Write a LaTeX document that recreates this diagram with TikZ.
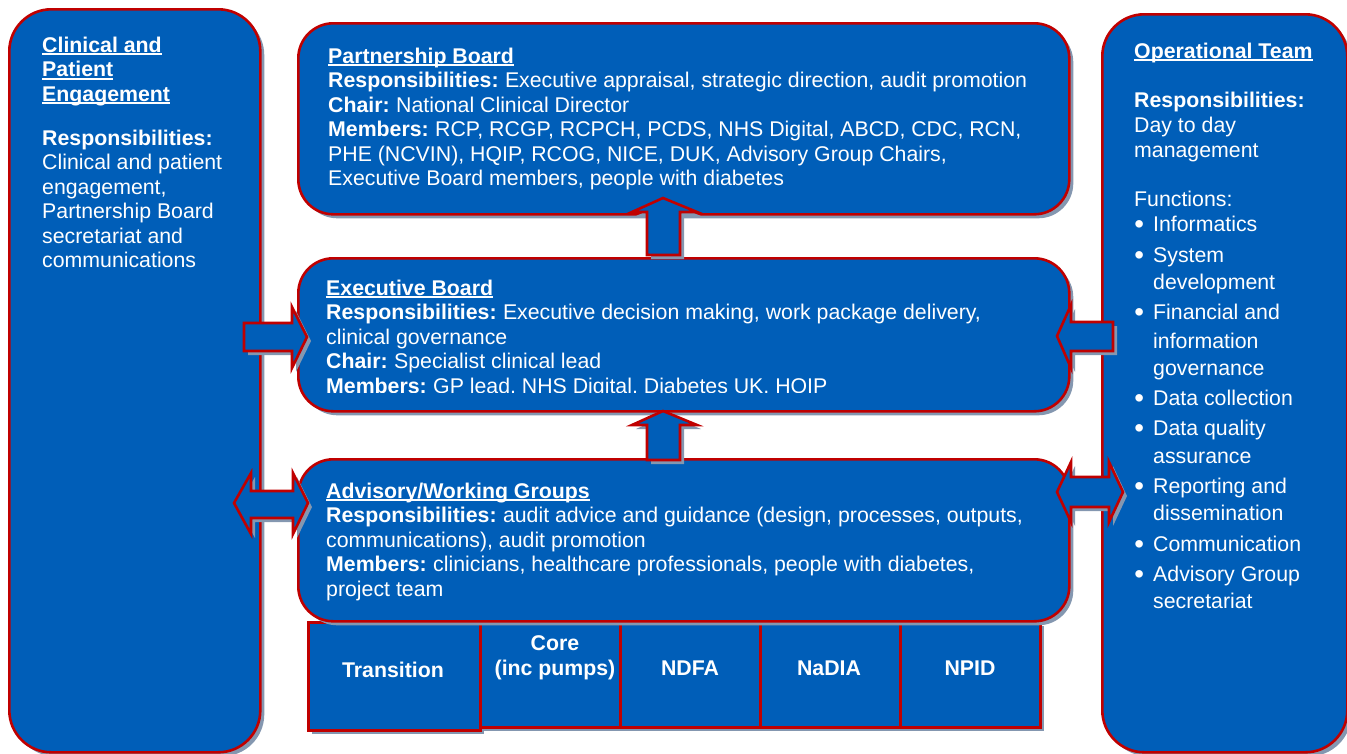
\documentclass[tikz,border=0pt]{standalone}
\usepackage{fontspec}
\usepackage{graphicx}
\setmainfont{Liberation Sans}
\usetikzlibrary{shadows}
\definecolor{nhsblue}{RGB}{0,94,184}
\definecolor{bred}{RGB}{192,0,0}
\definecolor{shc}{RGB}{132,151,176}
\newcommand\mainsize{\fontsize{21.3pt}{24.5pt}\selectfont}
\newcommand\myul[1]{\leavevmode\setbox0=\hbox{#1}\rlap{\rule[-3.4pt]{\wd0}{2.1pt}}\box0}
\newcommand\bul{\leavevmode\makebox[10pt][c]{\raisebox{-2.6pt}{\scalebox{1.3}{•}}}\hspace{9pt}}
\newcommand\bulind{\leavevmode\hspace*{19pt}}
\tikzset{
  shad/.style={drop shadow={shadow xshift=4pt,shadow yshift=-4pt,fill=shc,opacity=1}},
  panel/.style={draw=bred,fill=nhsblue,line width=2.6pt,inner sep=0pt,anchor=north west,shad},
  cell/.style={panel},
  barrow/.style={draw=bred,fill=nhsblue,line width=2.6pt,line join=miter,shad},
  txt/.style={anchor=base west,inner sep=0pt,text=white,font=\mainsize},
  celltxt/.style={anchor=base,inner sep=0pt,text=white,font=\mainsize\bfseries,align=center},
}
\begin{document}
\begin{tikzpicture}[x=1pt,y=-1pt]
\useasboundingbox (0,0) rectangle (1347,753);
% side panels
\node[panel,rounded corners=42pt,minimum width=251pt,minimum height=743pt] (cpe) at (8,8) {};
\node[panel,rounded corners=42pt,minimum width=245pt,minimum height=738pt] (ops) at (1101,13) {};
% bottom cells
\node[cell,minimum width=172pt,minimum height=108pt] (ctr) at (307,621) {};
\node[cell,minimum width=140pt,minimum height=105pt] (ccore) at (479,621) {};
\node[cell,minimum width=140pt,minimum height=105pt] (cndfa) at (619,621) {};
\node[cell,minimum width=140pt,minimum height=105pt] (cnadia) at (759,621) {};
\node[cell,minimum width=140pt,minimum height=105pt] (cnpid) at (899,621) {};
% central boards
\node[panel,rounded corners=35pt,minimum width=771pt,minimum height=191pt] (pb) at (297,22) {};
\node[panel,rounded corners=35pt,minimum width=771pt,minimum height=153pt] (eb) at (297,257) {};
\node[panel,rounded corners=35pt,minimum width=771pt,minimum height=162pt] (ag) at (297,458) {};
% block arrows
\draw[barrow] (647,255) -- (680,255) -- (680,212) -- (697,212) -- (663,198) -- (632,212) -- (647,212) -- cycle;
\draw[barrow] (647,460) -- (680,460) -- (680,425) -- (697,425) -- (663,411) -- (632,425) -- (647,425) -- cycle;
\draw[barrow] (244,323) -- (292,323) -- (292,307) -- (307,337) -- (292,368) -- (292,351) -- (244,351) -- cycle;
\draw[barrow] (1113,322) -- (1071,322) -- (1071,305) -- (1057,336) -- (1071,368) -- (1071,351) -- (1113,351) -- cycle;
\draw[barrow] (234,503) -- (251,473) -- (251,491) -- (293,491) -- (293,473) -- (308,503) -- (293,534) -- (293,518) -- (251,518) -- (251,534) -- cycle;
\draw[barrow] (1057,492) -- (1071,462) -- (1071,477) -- (1109,477) -- (1109,462) -- (1123,492) -- (1109,522) -- (1109,507) -- (1071,507) -- (1071,522) -- cycle;
% texts
\node[txt] (cpet) at (42,52) {\parbox[t]{210pt}{\raggedright
\myul{\textbf{Clinical and}}\\
\myul{\textbf{Patient}}\\
\myul{\textbf{Engagement}}\\[19.5pt]
\textbf{Responsibilities:}\\
Clinical and patient\\
engagement,\\
Partnership Board\\
secretariat and\\
communications}};
\node[txt] (opst) at (1134,58) {\parbox[t]{205pt}{\raggedright
\myul{\textbf{Operational Team}}\\[24.5pt]
\textbf{Responsibilities:}\\[0.5pt]
Day to day\\[0.5pt]
management\\[24.5pt]
Functions:\\[0.5pt]
\bul Informatics\\[6.5pt]
\bul System\\[2.5pt]
\bulind development\\[5.5pt]
\bul Financial and\\[4.5pt]
\bulind information\\[2.5pt]
\bulind governance\\[5.5pt]
\bul Data collection\\[5.5pt]
\bul Data quality\\[3.5pt]
\bulind assurance\\[5.5pt]
\bul Reporting and\\[2.5pt]
\bulind dissemination\\[6.5pt]
\bul Communication\\[5.5pt]
\bul Advisory Group\\[2.5pt]
\bulind secretariat}};
\node[txt] (pbt) at (328,63) {\parbox[t]{735pt}{\raggedright
\myul{\textbf{Partnership Board}}\\
\textbf{Responsibilities:}\hspace{-1.5pt} Executive appraisal, strategic direction, audit promotion\\
\textbf{Chair:}\hspace{-1.5pt} National Clinical Director\\
\textbf{Members:}\hspace{-1.5pt} RCP, RCGP, RCPCH, PCDS, NHS Digital, ABCD, CDC, RCN,\\
PHE (NCVIN), HQIP, RCOG, NICE, DUK, Advisory Group Chairs,\\
Executive Board members, people with diabetes}};
\begin{scope}
\clip (300,262) rectangle (1060,392.5);
\node[txt] (ebt) at (326,295) {\parbox[t]{735pt}{\raggedright
\myul{\textbf{Executive Board}}\\
\textbf{Responsibilities:}\hspace{-1.5pt} Executive decision making, work package delivery,\\
clinical governance\\
\textbf{Chair:}\hspace{-1.5pt} Specialist clinical lead\\
\textbf{Members:}\hspace{-1.5pt} GP lead, NHS Digital, Diabetes UK, HQIP}};
\end{scope}
\node[txt] (agt) at (326,498) {\parbox[t]{735pt}{\raggedright
\myul{\textbf{Advisory/Working Groups}}\\
\textbf{Responsibilities:}\hspace{-1.5pt} audit advice and guidance (design, processes, outputs,\\
communications), audit promotion\\
\textbf{Members:}\hspace{-1.5pt} clinicians, healthcare professionals, people with diabetes,\\
project team}};
\node[celltxt] (ctrt) at (393,677) {Transition};
\node[celltxt] (ccoret) at (555,675) {Core\\(inc pumps)};
\node[celltxt] (cndfat) at (690,675) {NDFA};
\node[celltxt] (cnadiat) at (829,675) {NaDIA};
\node[celltxt] (cnpidt) at (970,675) {NPID};
\end{tikzpicture}
\end{document}
